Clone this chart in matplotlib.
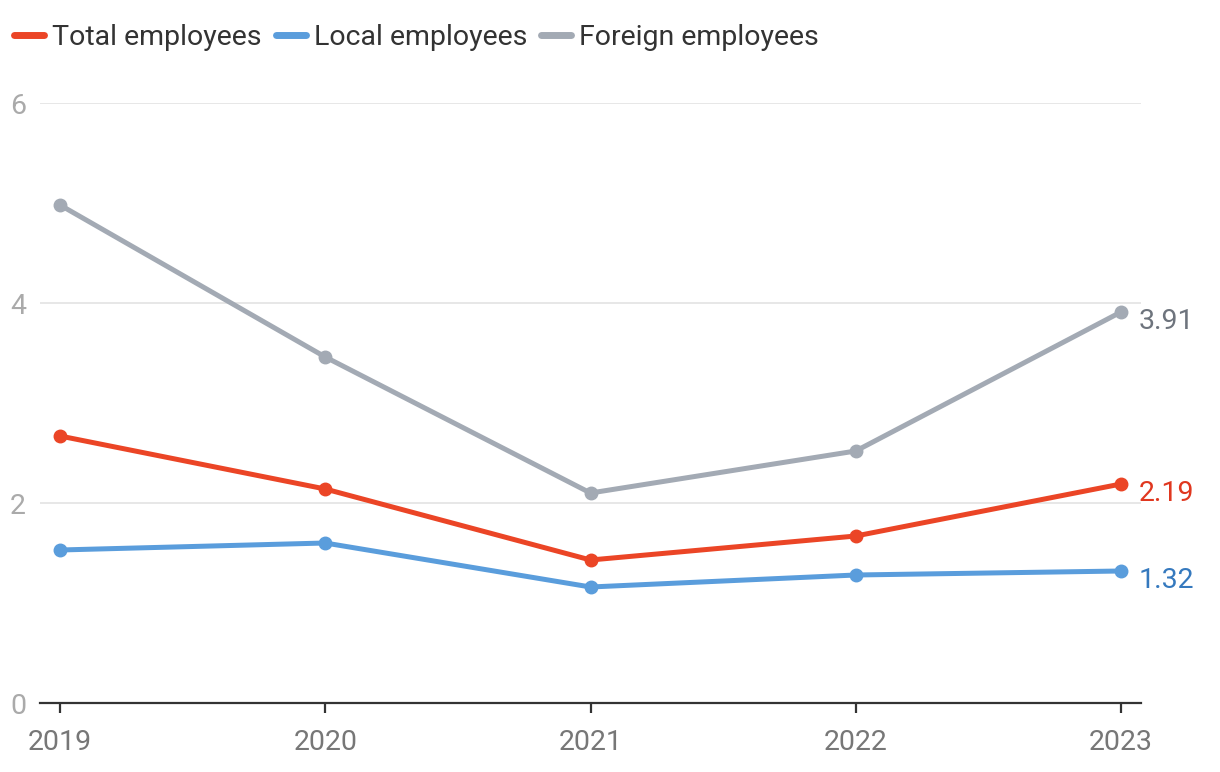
import matplotlib
matplotlib.use("Agg")
import matplotlib.pyplot as plt

plt.rcParams['font.family'] = ['Roboto', 'DejaVu Sans']

years = [2019, 2020, 2021, 2022, 2023]
total = [2.67, 2.14, 1.43, 1.67, 2.19]
local = [1.53, 1.60, 1.16, 1.28, 1.32]
foreign = [4.98, 3.46, 2.10, 2.52, 3.91]

series = [
    ("Total employees", total, "#EB4526", "#E0371F"),
    ("Local employees", local, "#5A9DDC", "#3579BE"),
    ("Foreign employees", foreign, "#A3AAB4", "#6E747D"),
]

fig = plt.figure(figsize=(12.2, 7.72), dpi=100)
ax = fig.add_axes([40 / 1220, 69 / 772, 1101 / 1220, 600 / 772])

for name, vals, color, lab_color in series:
    ax.plot(years, vals, color=color, lw=3.6, marker="o", ms=9,
            solid_capstyle="round", label=name, zorder=3)
    ax.annotate(f"{vals[-1]:.2f}", (years[-1], vals[-1]), xytext=(13, -7),
                textcoords="offset points", va="center", ha="left",
                fontsize=20.5, color=lab_color, annotation_clip=False)

ax.set_xlim(2019 - 20 / 265.25, 2023 + 20 / 265.25)
ax.set_ylim(0, 6)
ax.set_yticks([0, 2, 4, 6])
ax.set_xticks(years)
ax.set_xticklabels([str(y) for y in years])
ax.grid(axis="y", color="#E3E3E3", lw=1.2, zorder=0)
for s in ["top", "right", "left"]:
    ax.spines[s].set_visible(False)
ax.spines["bottom"].set_color("#333333")
ax.spines["bottom"].set_linewidth(1.6)
ax.spines["bottom"].set_zorder(4)
ax.tick_params(axis="x", length=7, width=1.6, color="#333333",
               labelsize=20.5, labelcolor="#777777", pad=12)
ax.tick_params(axis="y", length=0, labelsize=20.5, labelcolor="#AAAAAA", pad=10)

leg = fig.legend(loc="upper left", bbox_to_anchor=(-10 / 1220, 1.0), ncol=3,
                 frameon=False, fontsize=20.5, handlelength=1.05,
                 handletextpad=0.28, columnspacing=0.5, borderaxespad=0.45)
for h in leg.legend_handles:
    h.set_marker("")
    h.set_linewidth(5)
for t in leg.get_texts():
    t.set_color("#333333")

fig.savefig("out.png", dpi=100)
